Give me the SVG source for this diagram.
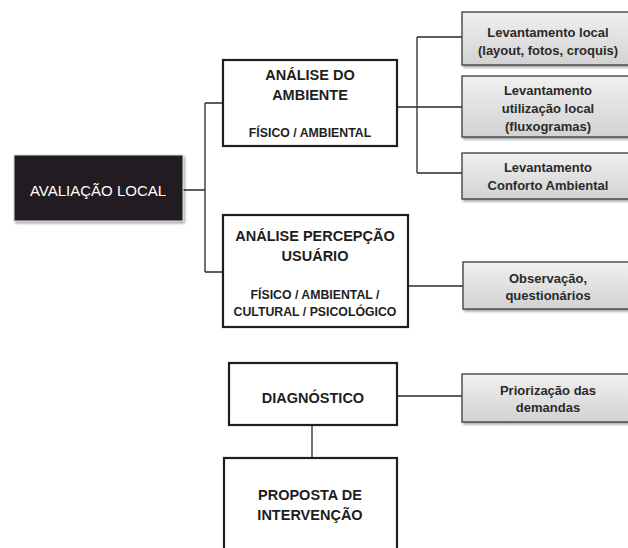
<svg xmlns="http://www.w3.org/2000/svg" width="628" height="548" viewBox="0 0 628 548">
<style>
.t{font-family:"Liberation Sans",Arial,sans-serif;font-weight:bold;fill:#1e1e1e;text-anchor:middle}
.h{font-size:14.5px}
.s{font-size:12.3px}
.g{font-size:13px;fill:#2a2a2a}
.wb{fill:#fff;stroke:#1e1e1e;stroke-width:2.2}
.gb{fill:url(#gr);stroke:#3a3a3a;stroke-width:1.3;filter:url(#sh)}
.c{fill:none;stroke:#2a2a2a;stroke-width:1.3}
</style>
<defs>
<linearGradient id="gr" x1="0" y1="0" x2="0" y2="1">
<stop offset="0" stop-color="#f0f0f0"/>
<stop offset="1" stop-color="#d2d2d2"/>
</linearGradient>
<filter id="sh" x="-10%" y="-10%" width="130%" height="140%">
<feDropShadow dx="1.5" dy="2" stdDeviation="1.2" flood-color="#000" flood-opacity="0.35"/>
</filter>
</defs>
<rect width="628" height="548" fill="#fff"/>
<g id="connectors">
<path class="c" d="M183 190H205M205 103V272M205 103H223M205 272H223"/>
<path class="c" d="M397 107H417M417 37V173M417 37H462M417 107H462M417 173H462"/>
<path class="c" d="M408 286H463"/>
<path class="c" d="M397 396H462"/>
<path class="c" d="M312 425V458"/>
</g>
<g id="avaliacao">
<rect x="14" y="155" width="169" height="66" fill="#231f20" stroke="#d8d8d8" stroke-width="1" filter="url(#sh)"/>
<text x="98" y="195.5" style="font-family:'Liberation Sans',Arial,sans-serif;font-size:15px;fill:#fff;text-anchor:middle">AVALIAÇÃO LOCAL</text>
</g>
<g id="analise-ambiente">
<rect class="wb" x="223" y="60" width="174" height="86"/>
<text class="t h" x="310" y="80">ANÁLISE DO</text>
<text class="t h" x="310" y="100">AMBIENTE</text>
<text class="t s" x="310" y="137">FÍSICO / AMBIENTAL</text>
</g>
<g id="analise-percepcao">
<rect class="wb" x="223" y="215" width="185" height="112"/>
<text class="t h" x="315" y="241">ANÁLISE PERCEPÇÃO</text>
<text class="t h" x="315" y="261">USUÁRIO</text>
<text class="t s" x="315" y="299">FÍSICO / AMBIENTAL /</text>
<text class="t s" x="315" y="316">CULTURAL / PSICOLÓGICO</text>
</g>
<g id="lev-local">
<rect class="gb" x="462" y="12" width="172" height="53"/>
<text class="t g" x="548" y="36.5">Levantamento local</text>
<text class="t g" x="548" y="54.5">(layout, fotos, croquis)</text>
</g>
<g id="lev-utilizacao">
<rect class="gb" x="462" y="76" width="172" height="61"/>
<text class="t g" x="548" y="94.5">Levantamento</text>
<text class="t g" x="548" y="112.5">utilização local</text>
<text class="t g" x="548" y="131">(fluxogramas)</text>
</g>
<g id="lev-conforto">
<rect class="gb" x="462" y="153" width="172" height="46"/>
<text class="t g" x="548" y="171.5">Levantamento</text>
<text class="t g" x="548" y="189.5">Conforto Ambiental</text>
</g>
<g id="observacao">
<rect class="gb" x="463" y="262" width="171" height="47"/>
<text class="t g" x="548" y="282.5">Observação,</text>
<text class="t g" x="548" y="299.5">questionários</text>
</g>
<g id="diagnostico">
<rect class="wb" x="229" y="363" width="168" height="62"/>
<text class="t h" x="313" y="403">DIAGNÓSTICO</text>
</g>
<g id="priorizacao">
<rect class="gb" x="462" y="374" width="172" height="48"/>
<text class="t g" x="548" y="394.5">Priorização das</text>
<text class="t g" x="548" y="411.5">demandas</text>
</g>
<g id="proposta">
<rect class="wb" x="224" y="458" width="173" height="110"/>
<text class="t h" x="310" y="500">PROPOSTA DE</text>
<text class="t h" x="310" y="520">INTERVENÇÃO</text>
</g>
</svg>
